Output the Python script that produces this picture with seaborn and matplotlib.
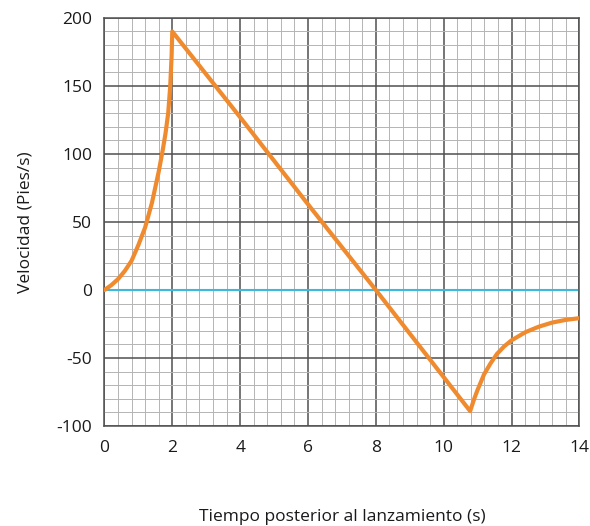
import numpy as np
import pandas as pd
import matplotlib.pyplot as plt
import seaborn as sns
from matplotlib.ticker import MultipleLocator

# puntos (tiempo en s, velocidad en pies/s)
tiempo = [0, 0.2, 0.4, 0.6, 0.8, 1.0, 1.2, 1.4, 1.6, 1.72, 1.8, 1.88, 1.94, 1.98, 2.0,
          4.0, 6.0, 8.0, 10.78,
          10.9, 10.99, 11.19, 11.38, 11.57, 11.78, 12.0, 12.41, 12.8, 13.19, 13.59, 14.0]
velocidad = [0, 3.5, 8, 14, 21.5, 33, 46, 64, 87, 103, 115, 130, 150, 172, 190,
             127, 63, 0, -89,
             -80, -74, -62, -54, -47, -41.5, -37, -31, -27, -24, -22, -20.7]

x_ticks = [0, 2, 4, 6, 8, 10, 12, 14]
y_ticks = [-100, -50, 0, 50, 100, 150, 200]

df = pd.DataFrame({"t": tiempo, "v": velocidad})

sns.set_style("white")
plt.rcParams['font.family'] = ['Open Sans', 'DejaVu Sans']

fig = plt.figure(figsize=(5.9, 5.26), dpi=100)
ax = fig.add_axes([0.177, 0.19, 0.805, 0.776])

# cuadricula
ax.xaxis.set_minor_locator(MultipleLocator(0.4))
ax.yaxis.set_minor_locator(MultipleLocator(10))
ax.grid(which='minor', color='#b4b4b4', linewidth=0.7)
ax.grid(which='major', color='#505050', linewidth=1.1)
ax.set_axisbelow(True)

ax.axhline(0, color='#3db9dc', linewidth=1.5, zorder=2)
sns.lineplot(data=df, x="t", y="v", ax=ax, color='#f08a2e', linewidth=3,
             sort=False, zorder=3, solid_joinstyle='round', solid_capstyle='round')

ax.set_xlim(0, 14)
ax.set_ylim(-100, 200)
ax.set_xticks(x_ticks)
ax.set_yticks(y_ticks)
ax.set_xticklabels([str(v) for v in x_ticks])
ax.set_yticklabels([str(v) for v in y_ticks])
ax.tick_params(which='both', length=0, labelsize=12.5, colors='#1a1a1a')
ax.tick_params(axis='x', pad=10)
ax.tick_params(axis='y', pad=9)

for s in ax.spines.values():
    s.set_color('#505050')
    s.set_linewidth(1.1)

ax.set_xlabel("Tiempo posterior al lanzamiento (s)", fontsize=12.5, labelpad=38, color='#1a1a1a')
ax.set_ylabel("Velocidad (Pies/s)", fontsize=12.5, labelpad=16, color='#1a1a1a')

fig.savefig("out.png", dpi=100)
